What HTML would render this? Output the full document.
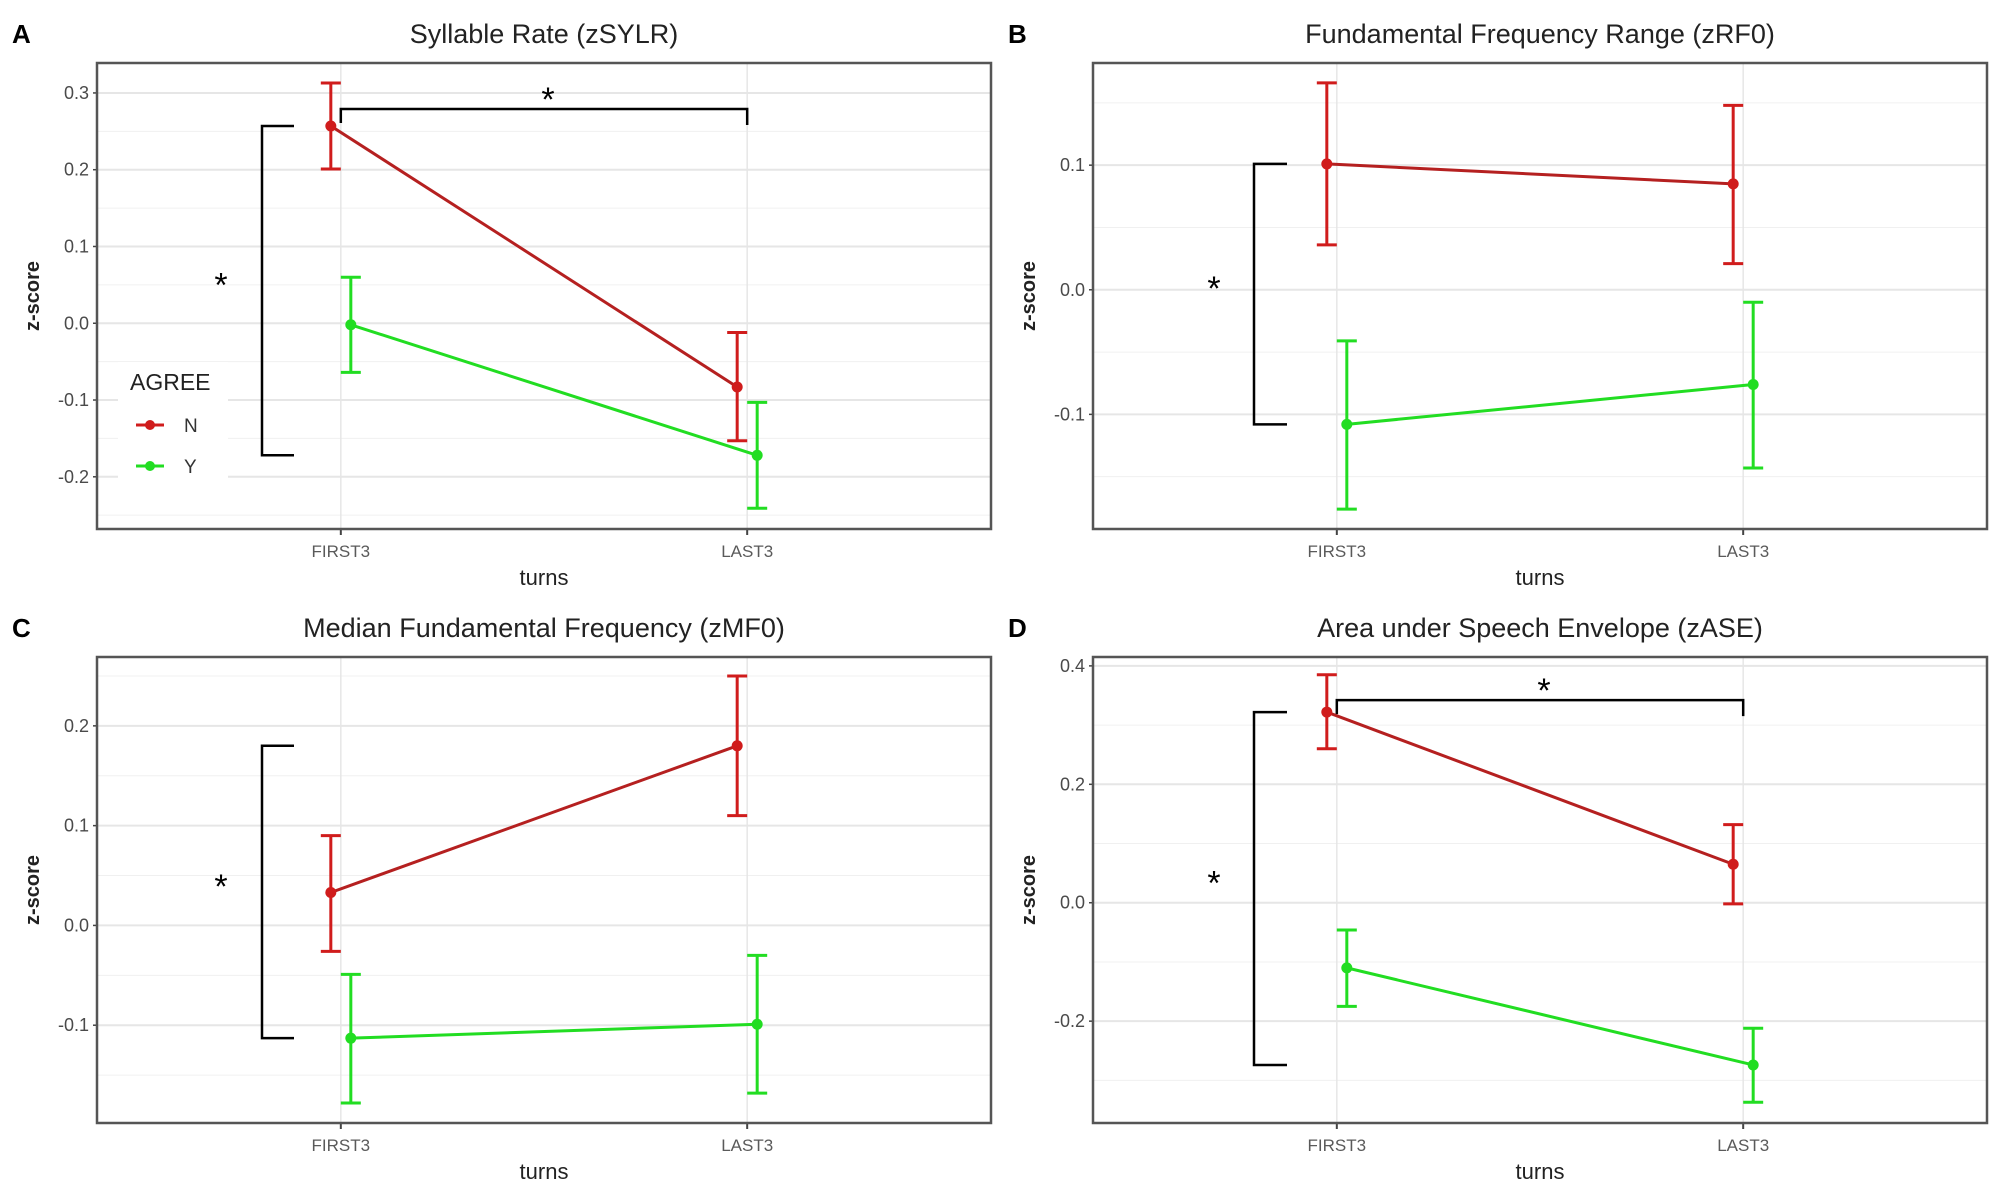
<!DOCTYPE html>
<html><head><meta charset="utf-8"><style>
html,body{margin:0;padding:0;background:#fff;}
svg{display:block;font-family:"Liberation Sans",sans-serif;}
</style></head><body>
<svg id="fig" width="2008" height="1201" viewBox="0 0 2008 1201"></svg>
<script>
const categories = ["FIRST3","LAST3"];
const titles = ["Syllable Rate (zSYLR)","Fundamental Frequency Range (zRF0)","Median Fundamental Frequency (zMF0)","Area under Speech Envelope (zASE)"];
const panelLetters = ["A","B","C","D"];
const nMean = [[0.257,-0.083],[0.101,0.085],[0.033,0.180],[0.322,0.065]];
const nLow  = [[0.201,-0.153],[0.036,0.021],[-0.026,0.110],[0.260,-0.002]];
const nHigh = [[0.313,-0.012],[0.166,0.148],[0.090,0.250],[0.385,0.132]];
const yMean = [[-0.002,-0.172],[-0.108,-0.076],[-0.113,-0.099],[-0.110,-0.274]];
const yLow  = [[-0.064,-0.241],[-0.176,-0.143],[-0.178,-0.168],[-0.175,-0.337]];
const yHigh = [[0.060,-0.103],[-0.041,-0.010],[-0.049,-0.030],[-0.046,-0.212]];
const yDomains = [[-0.268,0.339],[-0.192,0.182],[-0.198,0.269],[-0.372,0.415]];
const majorTicks = [[-0.2,-0.1,0.0,0.1,0.2,0.3],[-0.1,0.0,0.1],[-0.1,0.0,0.1,0.2],[-0.2,0.0,0.2,0.4]];
const tickLabels = [["-0.2","-0.1","0.0","0.1","0.2","0.3"],["-0.1","0.0","0.1"],["-0.1","0.0","0.1","0.2"],["-0.2","0.0","0.2","0.4"]];
const minorStep = [0.05,0.05,0.05,0.1];
const hasTopBracket = [true,false,false,true];

const NS="http://www.w3.org/2000/svg";
const svg=document.getElementById('fig');
function mk(tag,attrs,parent){const e=document.createElementNS(NS,tag);for(const k in attrs)e.setAttribute(k,attrs[k]);(parent||svg).appendChild(e);return e;}
const boxes=[{x:97,y:63},{x:1093,y:63},{x:97,y:657},{x:1093,y:657}];
const W=894,H=466;
const RED="#d01c1c",REDL="#b52020",GREEN="#22dd22";

for(let p=0;p<4;p++){
  const b=boxes[p];
  const g=mk('g',{});
  
  
  const [d0,d1]=yDomains[p];
  const ys=v=>b.y+H-(v-d0)/(d1-d0)*H;
  const xs=i=>b.x+W*(0.6+i)/2.2;
  const st=minorStep[p];
  for(let v=Math.ceil(d0/st)*st;v<=d1;v+=st){
    const l=mk('line',{x1:b.x,x2:b.x+W,y1:ys(v),y2:ys(v),stroke:'#f0f0f0','stroke-width':1},g);
    
    
  }
  majorTicks[p].forEach((v,i)=>{
    const l=mk('line',{x1:b.x,x2:b.x+W,y1:ys(v),y2:ys(v),stroke:'#e6e6e6','stroke-width':2},g);
    
    
    const t=mk('text',{x:b.x-8,y:ys(v)+6,'text-anchor':'end','font-size':18,fill:'#4a4a4a'},g);
    t.textContent=tickLabels[p][i];
    
    
    mk('line',{x1:b.x-4,x2:b.x,y1:ys(v),y2:ys(v),stroke:'#444','stroke-width':1.5},g);
  });
  categories.forEach((c,i)=>{
    const l=mk('line',{x1:xs(i),x2:xs(i),y1:b.y,y2:b.y+H,stroke:'#e6e6e6','stroke-width':1.5},g);
    
    
    mk('line',{x1:xs(i),x2:xs(i),y1:b.y+H,y2:b.y+H+6,stroke:'#444','stroke-width':2},g);
    const t=mk('text',{x:xs(i),y:b.y+H+28,'text-anchor':'middle','font-size':17,fill:'#5a5a5a'},g);
    t.textContent=c;
    
    
  });
  if(p===0){
    const r=mk('rect',{x:118,y:362,width:110,height:125,fill:'#fff'},g);
    
    
  }
  const fr=mk('rect',{x:b.x,y:b.y,width:W,height:H,fill:'none',stroke:'#555','stroke-width':2.5},g);
  
  
  const tt=mk('text',{x:b.x+W/2,y:b.y-20,'text-anchor':'middle','font-size':27,fill:'#222'},g);
  tt.textContent=titles[p];
  
  
  const lt=mk('text',{x:b.x===97?12:1008,y:b.y-20,'font-size':26,'font-weight':'bold',fill:'#000'},g);
  lt.textContent=panelLetters[p];
  
  
  const xt=mk('text',{x:b.x+W/2,y:b.y+H+56,'text-anchor':'middle','font-size':22,fill:'#222'},g);
  xt.textContent='turns';
  
  
  const yx=b.x-58, yy=b.y+H/2;
  const yt=mk('text',{x:yx,y:yy,'text-anchor':'middle','font-size':20,'font-weight':'bold',fill:'#222',transform:`rotate(-90 ${yx} ${yy})`},g);
  yt.textContent='z-score';
  
  
  const series=[{m:nMean[p],lo:nLow[p],hi:nHigh[p],c:RED,lc:REDL,off:-10,n:'n'},{m:yMean[p],lo:yLow[p],hi:yHigh[p],c:GREEN,lc:GREEN,off:10,n:'y'}];
  series.forEach(s=>{
    const ln=mk('line',{x1:xs(0)+s.off,y1:ys(s.m[0]),x2:xs(1)+s.off,y2:ys(s.m[1]),stroke:s.lc,'stroke-width':3},g);
    
    
    for(let i=0;i<2;i++){
      const x=xs(i)+s.off;
      const eb=mk('path',{d:`M${x-10},${ys(s.hi[i])}H${x+10}M${x},${ys(s.hi[i])}V${ys(s.lo[i])}M${x-10},${ys(s.lo[i])}H${x+10}`,stroke:s.c,'stroke-width':3,fill:'none'},g);
      
      
      const pt=mk('circle',{cx:x,cy:ys(s.m[i]),r:5.5,fill:s.c},g);
      
      
    }
  });
  const bx=b.x===97?262:1254, tipx=b.x===97?294:1287;
  const botY = p===2 ? ys(yMean[p][0]) : (p===0? ys(yMean[p][1]) : ys(Math.min(yMean[p][0],yMean[p][1])));
  const topY = p===2 ? ys(nMean[p][1]) : ys(nMean[p][0]);
  const br=mk('path',{d:`M${tipx},${topY}H${bx}V${botY}H${tipx}`,stroke:'#000','stroke-width':2.5,fill:'none'},g);
  
  
  const sx=b.x===97?221:1214;
  const s1=mk('text',{x:sx,y:(topY+botY)/2+6,'text-anchor':'middle','font-size':34,fill:'#000'},g);
  s1.textContent='*';
  
  
  if(hasTopBracket[p]){
    const yb=ys(nMean[p][0])-(p===0?17:12);
    const tb=mk('path',{d:`M${xs(0)},${yb+14}V${yb}H${xs(1)}V${yb+16}`,stroke:'#000','stroke-width':2.5,fill:'none'},g);
    
    
    const s2=mk('text',{x:b.x+W/2+4,y:yb+2,'text-anchor':'middle','font-size':34,fill:'#000'},g);
    s2.textContent='*';
    
    
  }
}
const lg=mk('g',{});


const lt=mk('text',{x:130,y:390,'font-size':23,fill:'#222'},lg);
lt.textContent='AGREE';


[["N",RED,425],["Y",GREEN,466]].forEach(([lab,c,y])=>{
  const e=mk('g',{},lg);
  
  
  mk('line',{x1:136,x2:164,y1:y,y2:y,stroke:c,'stroke-width':3},e);
  mk('circle',{cx:150,cy:y,r:5,fill:c},e);
  const t=mk('text',{x:184,y:y+7,'font-size':19,fill:'#333'},e);
  t.textContent=lab;
});
</script>
</body></html>
